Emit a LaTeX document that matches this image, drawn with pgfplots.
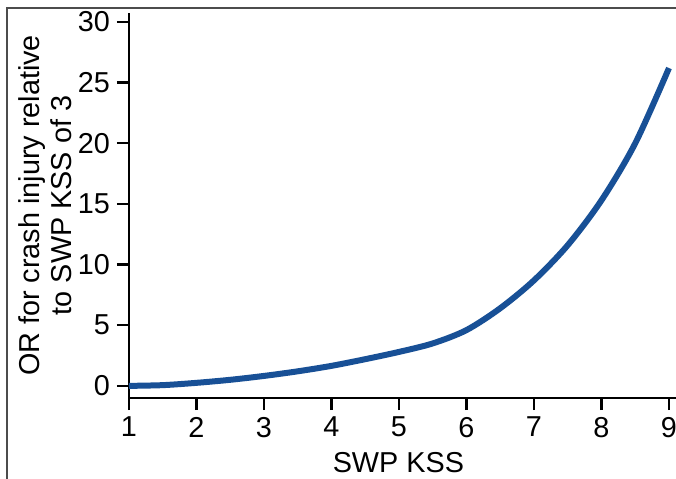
\documentclass[border=0pt]{standalone}
\usepackage{pgfplots}
\pgfplotsset{compat=1.18}
\usepackage{fontspec}
\setmainfont{Liberation Sans}
\definecolor{curveblue}{RGB}{24,80,150}

\begin{document}
\begin{tikzpicture}
  \useasboundingbox (-64.5pt,-40pt) rectangle (273.5pt,199pt);
  \clip (-64.5pt,-40pt) rectangle (273.5pt,199pt);
  \draw[line width=0.75pt, black!70] (-61pt,-50pt) -- (-61pt,195pt) -- (290pt,195pt);
  \begin{axis}[
    at={(0pt,0pt)}, anchor=south west,
    scale only axis, x=33.75pt, y=6.065pt,
    xmin=1, xmax=9.1, ymin=-1, ymax=30.75,
    axis x line*=bottom, axis y line*=left,
    axis line style={line width=1.2pt},
    xtick={1,2,...,9}, ytick={0,5,...,30},
    tick align=outside, major tick length=6pt,
    tick style={line width=1.2pt, black},
    font=\fontsize{14.4}{16}\selectfont,
    ticklabel style={font=\fontsize{14.4}{16}\selectfont},
    /pgf/number format/assume math mode=true,
    xlabel={SWP KSS},
    ylabel={OR for crash injury relative\\to SWP KSS of 3},
    every axis y label/.style={at={(axis description cs:-0.154,0.5)}, rotate=90, anchor=center, align=center},
    every axis x label/.style={at={(axis description cs:0.5,0)}, anchor=base, yshift=-37pt, xshift=-2pt},
  ]
    \addplot[curveblue, line width=3pt, smooth, tension=0.5] coordinates {
      (1,0) (1.5,0.06) (2,0.25) (2.5,0.5) (3,0.82) (3.5,1.2) (4,1.65)
      (4.5,2.2) (5,2.8) (5.5,3.5) (6,4.6) (6.5,6.4) (7,8.7) (7.5,11.6)
      (8,15.3) (8.5,20.0) (9,26.2)
    };
  \end{axis}
\end{tikzpicture}
\end{document}
